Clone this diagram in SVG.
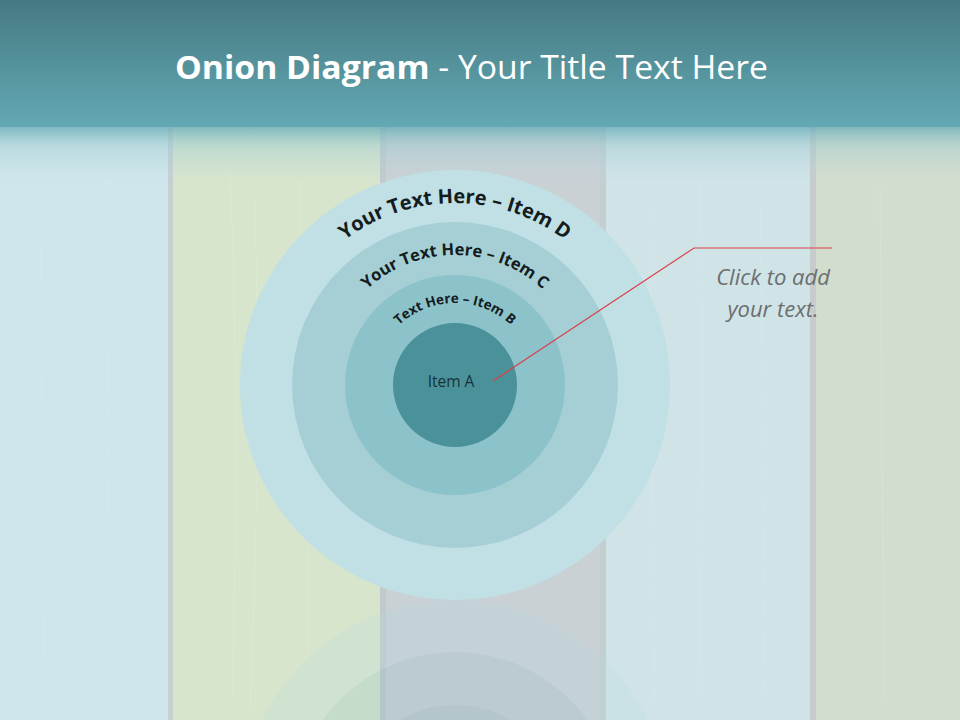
<svg xmlns="http://www.w3.org/2000/svg" xmlns:xlink="http://www.w3.org/1999/xlink" width="960" height="720" viewBox="0 0 960 720">
<defs>
<linearGradient id="hdr" x1="0" y1="0" x2="0" y2="1">
<stop offset="0" stop-color="#467a83"/>
<stop offset="1" stop-color="#63a9b3"/>
</linearGradient>
<linearGradient id="fade" x1="0" y1="0" x2="0" y2="1">
<stop offset="0" stop-color="#6aaeb8" stop-opacity="0.8"/>
<stop offset="0.35" stop-color="#9ccad0" stop-opacity="0.45"/>
<stop offset="1" stop-color="#b8d8dc" stop-opacity="0"/>
</linearGradient>
<path id="arcD" d="M 273,385 A 182,182 0 0 1 637,385"/>
<path id="arcC" d="M 325,385 A 130,130 0 0 1 585,385"/>
<path id="arcB" d="M 373,385 A 82,82 0 0 1 537,385"/>
</defs>
<style>
.arc { font-family: "Open Sans", "Noto Sans", sans-serif; font-weight: bold; fill: #141c1e; }
.title { font-family: "Open Sans", "Noto Sans", sans-serif; fill: #ffffff; font-size: 32px; }
.callout { font-family: "Open Sans", "Noto Sans", sans-serif; font-style: italic; fill: #6b6f70; font-size: 22px; }
.plankline { stroke: #ffffff; stroke-opacity: 0.12; stroke-width: 1; fill: none; }
</style>

<g id="background">
<rect x="0" y="0" width="960" height="720" fill="#cdd8da"/>
<rect x="0" y="0" width="168" height="720" fill="#cfe6ec"/>
<rect x="168" y="0" width="5" height="720" fill="#c6cfd2"/>
<rect x="173" y="0" width="207" height="720" fill="#d7e5cd"/>
<rect x="380" y="0" width="6" height="720" fill="#c3c9cc"/>
<rect x="386" y="0" width="214" height="720" fill="#c9d1d5"/>
<rect x="600" y="0" width="6" height="720" fill="#c4cfd2"/>
<rect x="606" y="0" width="204" height="720" fill="#d0e3e7"/>
<rect x="810" y="0" width="6" height="720" fill="#c6cccc"/>
<rect x="816" y="0" width="144" height="720" fill="#d3ddcd"/>
<path class="plankline" d="M40 200 L44 700 M110 180 L106 690 M230 170 Q240 400 232 700 M255 200 Q262 450 250 710 M300 180 L310 700 M650 200 L655 710 M700 180 Q706 420 698 700 M760 170 L765 700 M880 180 L884 700"/>
</g>

<g id="reflection" opacity="0.18">
<circle cx="455" cy="815" r="215" fill="#b0dbe2"/>
<circle cx="455" cy="815" r="163" fill="#7fb4bd"/>
<circle cx="455" cy="815" r="110" fill="#5f9aa3"/>
</g>

<g id="header">
<rect x="0" y="0" width="960" height="127" fill="url(#hdr)"/>
<rect x="0" y="127" width="960" height="55" fill="url(#fade)"/>
<text class="title" x="175" y="79" textLength="593" lengthAdjust="spacingAndGlyphs"><tspan font-weight="bold">Onion Diagram</tspan> - Your Title Text Here</text>
</g>

<g id="itemD">
<circle cx="455" cy="385" r="215" fill="#c0e0e5"/>
<text class="arc" font-size="20"><textPath xlink:href="#arcD" href="#arcD" startOffset="50%" text-anchor="middle">Your Text Here – Item D</textPath></text>
</g>
<g id="itemC">
<circle cx="455" cy="385" r="163" fill="#a5cfd5"/>
<text class="arc" font-size="16.5"><textPath xlink:href="#arcC" href="#arcC" startOffset="50%" text-anchor="middle">Your Text Here – Item C</textPath></text>
</g>
<g id="itemB">
<circle cx="455" cy="385" r="110" fill="#8cc2ca"/>
<text class="arc" font-size="13.5"><textPath xlink:href="#arcB" href="#arcB" startOffset="50%" text-anchor="middle">Text Here – Item B</textPath></text>
</g>
<g id="itemA">
<circle cx="455" cy="385" r="62" fill="#4a919a"/>
<text x="451" y="387" font-family="'Open Sans', 'Noto Sans', sans-serif" font-size="15.5" fill="#173338" text-anchor="middle">Item A</text>
</g>

<g id="connectors">
<polyline points="493,381 694,248 832,248" fill="none" stroke="#d9424b" stroke-width="1.2"/>
</g>

<g id="callout">
<text class="callout" x="773" y="285" text-anchor="middle">Click  to add</text>
<text class="callout" x="773" y="317" text-anchor="middle">your text.</text>
</g>
</svg>
